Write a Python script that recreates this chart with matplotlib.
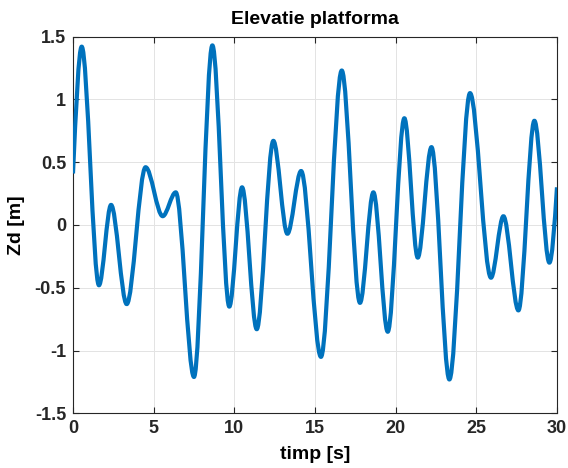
import matplotlib
matplotlib.use("Agg")
import matplotlib.pyplot as plt
from matplotlib.path import Path
from matplotlib.patches import PathPatch

# turning points of the curve (time [s], elevation [m])
t_pts = [0.0, 0.54, 1.61, 2.36, 3.33, 4.50, 5.56, 6.37, 7.50, 8.64, 9.69,
         10.48, 11.39, 12.42, 13.29, 14.14, 15.37, 16.66, 17.79, 18.62,
         19.51, 20.54, 21.37, 22.22, 23.33, 24.61, 25.91, 26.68, 27.61,
         28.60, 29.53, 30.0]
z_pts = [0.41, 1.42, -0.48, 0.16, -0.63, 0.46, 0.07, 0.26, -1.21, 1.43,
         -0.65, 0.30, -0.83, 0.67, -0.07, 0.43, -1.05, 1.23, -0.62, 0.26,
         -0.85, 0.85, -0.26, 0.62, -1.23, 1.05, -0.42, 0.07, -0.68, 0.83,
         -0.30, 0.30]
# slope at both ends of the record [m/s]; zero at every turning point
slope_start = 2.8
slope_end = 2.0

x_ticks = [0, 5, 10, 15, 20, 25, 30]
y_ticks = [-1.5, -1, -0.5, 0, 0.5, 1, 1.5]
y_labels = ["-1.5", "-1", "-0.5", "0", "0.5", "1", "1.5"]

plt.rcParams["font.family"] = ["Liberation Sans", "DejaVu Sans"]
plt.rcParams["font.weight"] = "bold"
plt.rcParams["axes.unicode_minus"] = False

fig = plt.figure(figsize=(5.68, 4.68), dpi=100)
ax = fig.add_axes([0.1285, 0.1167, 0.8521, 0.8051])

# smooth curve through the turning points, drawn as cubic Bezier segments
slopes = [0.0] * len(t_pts)
slopes[0] = slope_start
slopes[-1] = slope_end
verts = [(t_pts[0], z_pts[0])]
codes = [Path.MOVETO]
for i in range(len(t_pts) - 1):
    dt = t_pts[i + 1] - t_pts[i]
    verts.append((t_pts[i] + dt / 3, z_pts[i] + slopes[i] * dt / 3))
    verts.append((t_pts[i + 1] - dt / 3, z_pts[i + 1] - slopes[i + 1] * dt / 3))
    verts.append((t_pts[i + 1], z_pts[i + 1]))
    codes += [Path.CURVE4] * 3
ax.add_patch(PathPatch(Path(verts, codes), fill=False, edgecolor="#0072BD",
                       lw=3.0, capstyle="butt", joinstyle="round", zorder=3))

ax.set_xlim(0, 30)
ax.set_ylim(-1.5, 1.5)
ax.set_xticks(x_ticks)
ax.set_yticks(y_ticks)
ax.set_yticklabels(y_labels)
ax.grid(True, color="#e3e3e3", linewidth=0.7)
ax.set_axisbelow(True)
ax.tick_params(direction="in", top=True, right=True, length=4,
               color="#262626", labelsize=13, labelcolor="#262626", pad=5)
for s in ax.spines.values():
    s.set_color("#262626")
    s.set_linewidth(0.8)

ax.set_title("Elevatie platforma", fontsize=14, fontweight="bold", pad=9)
ax.set_xlabel("timp [s]", fontsize=14, fontweight="bold", labelpad=6)
ax.set_ylabel("Zd [m]", fontsize=14, fontweight="bold", labelpad=7)

fig.savefig("out.png", dpi=100, facecolor="white")
